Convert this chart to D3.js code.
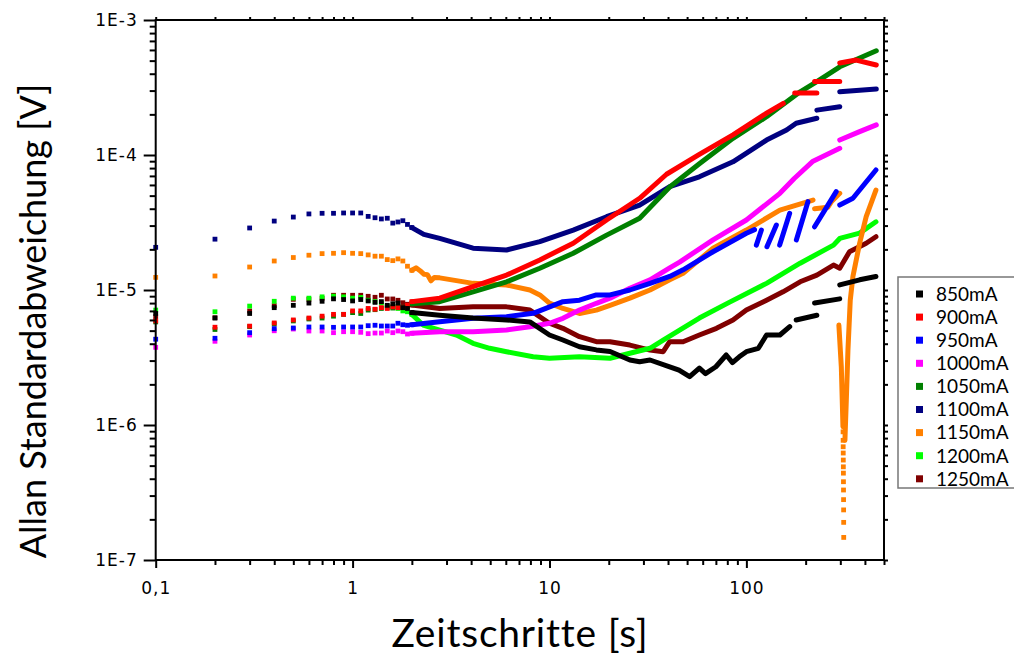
<!DOCTYPE html>
<html>
<head>
<meta charset="utf-8">
<script src="https://cdn.jsdelivr.net/npm/d3@7/dist/d3.min.js"></script>
<style>
  body { margin: 0; background: #fff; }
  .tick text { font-family: "DejaVu Sans", sans-serif; font-size: 17px; fill: #000; }
  .title, .leg { font-family: Lato, "Open Sans", sans-serif; fill: #000; }
</style>
</head>
<body>
<svg id="chart" width="1014" height="654"></svg>
<script>
var currents = ["850mA", "900mA", "950mA", "1000mA", "1050mA", "1100mA", "1150mA", "1200mA", "1250mA"];
var colors = ["#000000", "#ff0000", "#0000ff", "#ff00ff", "#008000", "#000080", "#ff8000", "#00ff00", "#800000"];

var xMajor = [0.1, 1, 10, 100];
var xLabels = ["0,1", "1", "10", "100"];
var yMajor = [1e-7, 1e-6, 1e-5, 1e-4, 1e-3];
var yLabels = ["1E-7", "1E-6", "1E-5", "1E-4", "1E-3"];

// first points, one every 0.1 s
var tauEarly = [0.1, 0.2, 0.3, 0.4, 0.5, 0.6, 0.7, 0.8, 0.9, 1.0, 1.1, 1.2, 1.3, 1.4, 1.5, 1.6, 1.7, 1.8, 1.9, 2.0];

var early850 = [6.7e-6, 6.2e-6, 6.7e-6, 7.4e-6, 7.7e-6, 8.0e-6, 8.25e-6, 8.6e-6, 8.5e-6, 8.3e-6, 8.5e-6, 8.3e-6, 8.1e-6, 8.2e-6, 7.7e-6, 7.9e-6, 8.0e-6, 7.4e-6, 7.3e-6, 6.8e-6];
var early900 = [5.9e-6, 5.3e-6, 5.4e-6, 5.7e-6, 6.0e-6, 6.2e-6, 6.4e-6, 6.6e-6, 6.6e-6, 7.0e-6, 7.0e-6, 7.3e-6, 7.2e-6, 7.4e-6, 7.3e-6, 7.5e-6, 7.4e-6, 7.4e-6, 7.7e-6, 8.2e-6];
var early950 = [4.32e-6, 4.39e-6, 4.83e-6, 5.17e-6, 5.23e-6, 5.32e-6, 5.32e-6, 5.29e-6, 5.32e-6, 5.32e-6, 5.32e-6, 5.44e-6, 5.48e-6, 5.41e-6, 5.41e-6, 5.41e-6, 5.67e-6, 5.53e-6, 5.48e-6, 5.53e-6];
var early1000 = [3.76e-6, 4.17e-6, 4.64e-6, 4.99e-6, 5.14e-6, 4.97e-6, 4.97e-6, 4.83e-6, 4.91e-6, 4.91e-6, 4.86e-6, 4.75e-6, 4.8e-6, 4.8e-6, 4.97e-6, 4.83e-6, 4.97e-6, 4.91e-6, 4.72e-6, 4.78e-6];
var early1050 = [5.8e-6, 5.1e-6, 5.35e-6, 5.6e-6, 5.9e-6, 6.1e-6, 6.2e-6, 6.4e-6, 6.6e-6, 6.8e-6, 6.7e-6, 7.1e-6, 7.15e-6, 7.3e-6, 7.4e-6, 7.35e-6, 7.5e-6, 7.45e-6, 7.5e-6, 7.9e-6];
var early1100 = [2.07e-5, 2.38e-5, 2.88e-5, 3.24e-5, 3.47e-5, 3.66e-5, 3.7e-5, 3.7e-5, 3.72e-5, 3.72e-5, 3.72e-5, 3.51e-5, 3.43e-5, 3.36e-5, 3.4e-5, 3.13e-5, 3.19e-5, 3.26e-5, 3.06e-5, 2.9e-5];
var early1150 = [1.24e-5, 1.27e-5, 1.48e-5, 1.64e-5, 1.74e-5, 1.81e-5, 1.86e-5, 1.87e-5, 1.89e-5, 1.87e-5, 1.86e-5, 1.82e-5, 1.78e-5, 1.78e-5, 1.68e-5, 1.65e-5, 1.7e-5, 1.64e-5, 1.5e-5, 1.4e-5];
var early1200 = [7.1e-6, 6.9e-6, 7.6e-6, 8.25e-6, 8.7e-6, 8.7e-6, 8.9e-6, 9.0e-6, 8.9e-6, 8.7e-6, 8.8e-6, 8.4e-6, 8.2e-6, 8.0e-6, 7.6e-6, 7.5e-6, 7.3e-6, 7.0e-6, 6.9e-6, 6.6e-6];
var early1250 = [6.34e-6, 6.23e-6, 6.99e-6, 7.65e-6, 8.53e-6, 8.53e-6, 8.68e-6, 9.14e-6, 9.14e-6, 9.14e-6, 9.14e-6, 8.98e-6, 8.83e-6, 9.14e-6, 8.58e-6, 8.58e-6, 8.39e-6, 8.05e-6, 7.84e-6, 7.74e-6];

// dense part [tau, sigma], null = gap in the trace
var late850 = [[2.77, 6.5e-6], [4.09, 6.2e-6], [6.05, 6.0e-6], [7.95, 5.8e-6], [10, 4.64e-6], [11.7, 4.26e-6], [14.2, 3.8e-6], [17.3, 3.6e-6], [20.3, 3.5e-6], [25.6, 3.03e-6], [28.7, 2.94e-6], [32.4, 3.03e-6], [40.8, 2.7e-6], [45.5, 2.55e-6], [51.5, 2.28e-6], [57.7, 2.64e-6], [62, 2.4e-6], [70, 2.7e-6], [79, 3.3e-6], [85, 2.9e-6], [92, 3.2e-6], [100, 3.49e-6], [115, 3.7e-6], [126.6, 4.64e-6], [148, 4.64e-6], [166, 5.35e-6], null, [179, 6.0e-6], [228, 6.5e-6], null, [222, 8.0e-6], [298, 8.6e-6], null, [298, 1.09e-5], [376, 1.19e-5], [455, 1.26e-5]];
var late900 = [[2.77, 8.7e-6], [4.09, 1.06e-5], [6.05, 1.29e-5], [8.93, 1.67e-5], [13.2, 2.22e-5], [19.5, 3.3e-5], [28.7, 4.78e-5], [39.3, 7.2e-5], [57.7, 1.01e-4], [85.5, 1.41e-4], [126.6, 2.04e-4], [154, 2.41e-4], null, [176, 2.88e-4], [228, 2.88e-4], null, [222, 3.51e-4], [298, 3.51e-4], null, [298, 4.8e-4], [361, 5.05e-4], [457, 4.64e-4]];
var late950 = [[2.77, 5.82e-6], [4.09, 6.17e-6], [6.05, 6.34e-6], [8.26, 6.72e-6], [11.7, 8.2e-6], [14.2, 8.4e-6], [17.3, 9.2e-6], [20.3, 9.2e-6], [25.6, 1.0e-5], [32.4, 1.12e-5], [40.8, 1.26e-5], [47.7, 1.41e-5], [67.7, 1.92e-5], [100, 2.63e-5], [110, 2.8e-5], null, [112.4, 2.15e-5], [119.2, 2.78e-5], null, [127.2, 2.09e-5], [142, 3.03e-5], null, [147.6, 2.15e-5], [165.9, 3.7e-5], null, [179.4, 2.35e-5], [205.4, 4.51e-5], null, [222, 2.94e-5], [286, 5.35e-5], null, [298, 4.26e-5], [347.6, 4.78e-5], [455, 7.74e-5]];
var late1000 = [[2.77, 4.91e-6], [4.09, 4.91e-6], [6.05, 5.05e-6], [7.95, 5.35e-6], [10, 5.67e-6], [11.7, 6.17e-6], [14.2, 7.1e-6], [17.3, 7.97e-6], [20.3, 8.7e-6], [25.6, 1.03e-5], [32.4, 1.19e-5], [40.8, 1.46e-5], [45.8, 1.61e-5], [67.7, 2.35e-5], [100, 3.3e-5], [148, 5.2e-5], [175, 6.7e-5], [218, 9.0e-5], [298, 1.12e-4], null, [298, 1.29e-4], [376, 1.49e-4], [457, 1.67e-4]];
var late1050 = [[2.77, 8.2e-6], [4.09, 9.7e-6], [6.05, 1.15e-5], [8.93, 1.45e-5], [13.2, 1.87e-5], [19.5, 2.55e-5], [28.7, 3.4e-5], [40.8, 5.8e-5], [57.7, 8.6e-5], [85.5, 1.33e-4], [126.6, 1.92e-4], [187.5, 2.94e-4], [228, 3.49e-4], [298, 4.5e-4], [457, 5.92e-4]];
var late1100 = [[2.3, 2.58e-5], [2.77, 2.41e-5], [4.09, 2.04e-5], [6.05, 1.98e-5], [8.93, 2.28e-5], [13.2, 2.78e-5], [19.5, 3.49e-5], [28.7, 4.26e-5], [40.8, 5.84e-5], [57.7, 6.9e-5], [85.5, 8.9e-5], [126.6, 1.29e-4], [160, 1.53e-4], [179, 1.72e-4], [228, 1.87e-4], null, [228, 2.15e-4], [298, 2.28e-4], null, [298, 2.94e-4], [457, 3.08e-4]];
var late1150 = [[2.1, 1.46e-5], [2.2, 1.39e-5], [2.3, 1.31e-5], [2.4, 1.3e-5], [2.5, 1.17e-5], [2.6, 1.24e-5], [2.77, 1.23e-5], [4.09, 1.12e-5], [6.05, 1.09e-5], [7.95, 1.0e-5], [8.93, 9.2e-6], [10, 8.0e-6], [11.7, 7.3e-6], [14.2, 6.7e-6], [17.3, 7.1e-6], [20.3, 7.7e-6], [25.6, 8.7e-6], [32.4, 1.0e-5], [40.8, 1.19e-5], [47.7, 1.33e-5], [67.7, 2.04e-5], [100, 2.78e-5], [148, 3.91e-5], [218, 4.64e-5], null, [222, 4.0e-5], [259, 4.1e-5], [270, 4.5e-5], [298, 5.2e-5], null, [295, 5.5e-6], [303.5, 2.7e-6], [309.4, 9.7e-7], null, [316.6, 7.7e-7], [321.8, 1.53e-6], [328, 3.59e-6], [337, 8.4e-6], [347.6, 1.26e-5], [376, 2.22e-5], [406, 3.49e-5], [455, 5.5e-5]];
var late1200 = [[2.28, 5.5e-6], [2.77, 5.05e-6], [3.37, 4.64e-6], [4.09, 4.03e-6], [4.97, 3.7e-6], [6.05, 3.49e-6], [8.26, 3.2e-6], [10, 3.12e-6], [14.2, 3.2e-6], [20.3, 3.12e-6], [25.6, 3.4e-6], [32.4, 3.7e-6], [37.8, 4.26e-6], [45.8, 5.05e-6], [57.7, 6.2e-6], [81.8, 8.1e-6], [126.6, 1.12e-5], [187.5, 1.58e-5], [277, 2.15e-5], [298, 2.41e-5], [376, 2.64e-5], [455, 3.2e-5]];
var late1250 = [[2.77, 7.3e-6], [4.09, 7.5e-6], [6.05, 7.5e-6], [7.95, 7.1e-6], [10, 5.67e-6], [11.7, 5.2e-6], [14.2, 4.51e-6], [17.3, 4.14e-6], [20.3, 4.14e-6], [25.6, 3.91e-6], [32.4, 3.59e-6], [37.8, 3.49e-6], [40.8, 4.14e-6], [47.7, 4.14e-6], [57.7, 4.64e-6], [70.5, 5.2e-6], [85.5, 5.99e-6], [100, 7.1e-6], [126.6, 8.4e-6], [153.5, 9.7e-6], [187.5, 1.15e-5], [228, 1.29e-5], [277, 1.53e-5], [298, 1.45e-5], [334, 1.92e-5], [406, 2.22e-5], [455, 2.48e-5]];

// loose points at the bottom of the 1150mA dip
var tauDip = [309.8, 310, 310.2, 310.4, 310.6, 310.8, 311, 311.2, 311.4, 311.6, 311.8, 312, 312.2];
var dip1150 = [8.9e-7, 7.7e-7, 6.9e-7, 6.2e-7, 5.5e-7, 4.9e-7, 4.4e-7, 3.8e-7, 3.3e-7, 2.8e-7, 2.35e-7, 1.9e-7, 1.47e-7];

var earlies = [early850, early900, early950, early1000, early1050, early1100, early1150, early1200, early1250];
var lates = [late850, late900, late950, late1000, late1050, late1100, late1150, late1200, late1250];

var svg = d3.select("#chart");

var x = d3.scaleLog().domain([0.1, 500]).range([155.7, 884]);
var y = d3.scaleLog().domain([1e-7, 1e-3]).range([560, 20]);

var xMinor = [];
[0.1, 1, 10, 100].forEach(function (p) {
  for (var k = 2; k <= 9; k++) if (k * p <= 500) xMinor.push(k * p);
});
var yMinor = [];
[1e-7, 1e-6, 1e-5, 1e-4].forEach(function (p) {
  for (var k = 2; k <= 9; k++) yMinor.push(k * p);
});

var line = d3.line()
  .defined(function (d) { return d != null; })
  .x(function (d) { return x(d[0]); })
  .y(function (d) { return y(d[1]); });

var plot = svg.append("g");

// later series sit underneath the earlier ones
d3.range(currents.length).reverse().forEach(function (i) {
  var g = plot.append("g");
  var pts = tauEarly.map(function (t, j) { return [t, earlies[i][j]]; });

  g.append("path")
    .datum([pts[pts.length - 1]].concat(lates[i]))
    .attr("d", line)
    .attr("fill", "none")
    .attr("stroke", colors[i])
    .attr("stroke-width", 5)
    .attr("stroke-linejoin", "round")
    .attr("stroke-linecap", "round");

  var dots = pts;
  if (i == 6) dots = pts.concat(tauDip.map(function (t, j) { return [t, dip1150[j]]; }));

  g.selectAll("rect").data(dots).join("rect")
    .attr("x", function (d) { return x(d[0]) - 2.4; })
    .attr("y", function (d) { return y(d[1]) - 2.4; })
    .attr("width", 4.8)
    .attr("height", 4.8)
    .attr("fill", colors[i]);
});

// frame and ticks
function styleAxis(g) {
  g.select(".domain").remove();
  g.selectAll(".tick line").attr("stroke", "#000").attr("stroke-width", 2);
}

svg.append("g").attr("transform", "translate(0,560)")
  .call(d3.axisBottom(x).tickValues(xMinor).tickSize(5).tickFormat(""))
  .call(styleAxis);
svg.append("g").attr("transform", "translate(0,560)")
  .call(d3.axisBottom(x).tickValues(xMajor).tickSize(8).tickPadding(14)
    .tickFormat(function (d, i) { return xLabels[i]; }))
  .call(styleAxis);
svg.append("g").attr("transform", "translate(0,20)")
  .call(d3.axisTop(x).tickValues(xMajor.concat(xMinor)).tickSize(3).tickFormat(""))
  .call(styleAxis);

svg.append("g").attr("transform", "translate(155.7,0)")
  .call(d3.axisLeft(y).tickValues(yMinor).tickSize(6).tickFormat(""))
  .call(styleAxis);
svg.append("g").attr("transform", "translate(155.7,0)")
  .call(d3.axisLeft(y).tickValues(yMajor).tickSize(12).tickPadding(6)
    .tickFormat(function (d, i) { return yLabels[i]; }))
  .call(styleAxis);
svg.append("g").attr("transform", "translate(884,0)")
  .call(d3.axisRight(y).tickValues(yMajor.concat(yMinor)).tickSize(4).tickFormat(""))
  .call(styleAxis);

svg.append("rect")
  .attr("x", 155.7).attr("y", 20)
  .attr("width", 884 - 155.7).attr("height", 540)
  .attr("fill", "none").attr("stroke", "#000").attr("stroke-width", 2);

svg.selectAll(".tick text").style("letter-spacing", "1px");

// axis titles
svg.append("text").attr("class", "title")
  .attr("x", 520).attr("y", 647)
  .attr("text-anchor", "middle")
  .style("font-size", "39px")
  .style("letter-spacing", "0.8px")
  .text("Zeitschritte [s]");

svg.append("text").attr("class", "title")
  .attr("transform", "translate(46,321) rotate(-90)")
  .attr("text-anchor", "middle")
  .style("font-size", "36px")
  .text("Allan Standardabweichung [V]");

// legend
var leg = svg.append("g");
leg.append("rect")
  .attr("x", 898).attr("y", 277).attr("width", 140).attr("height", 211)
  .attr("fill", "#fff").attr("stroke", "#777").attr("stroke-width", 1.5);

currents.forEach(function (c, i) {
  var cy = 294 + i * 23.1;
  leg.append("rect")
    .attr("x", 916).attr("y", cy - 3.5).attr("width", 7).attr("height", 7)
    .attr("fill", colors[i]);
  leg.append("text").attr("class", "leg")
    .attr("x", 936).attr("y", cy).attr("dy", "0.36em")
    .style("font-size", "19px")
    .text(c);
});
</script>
</body>
</html>
